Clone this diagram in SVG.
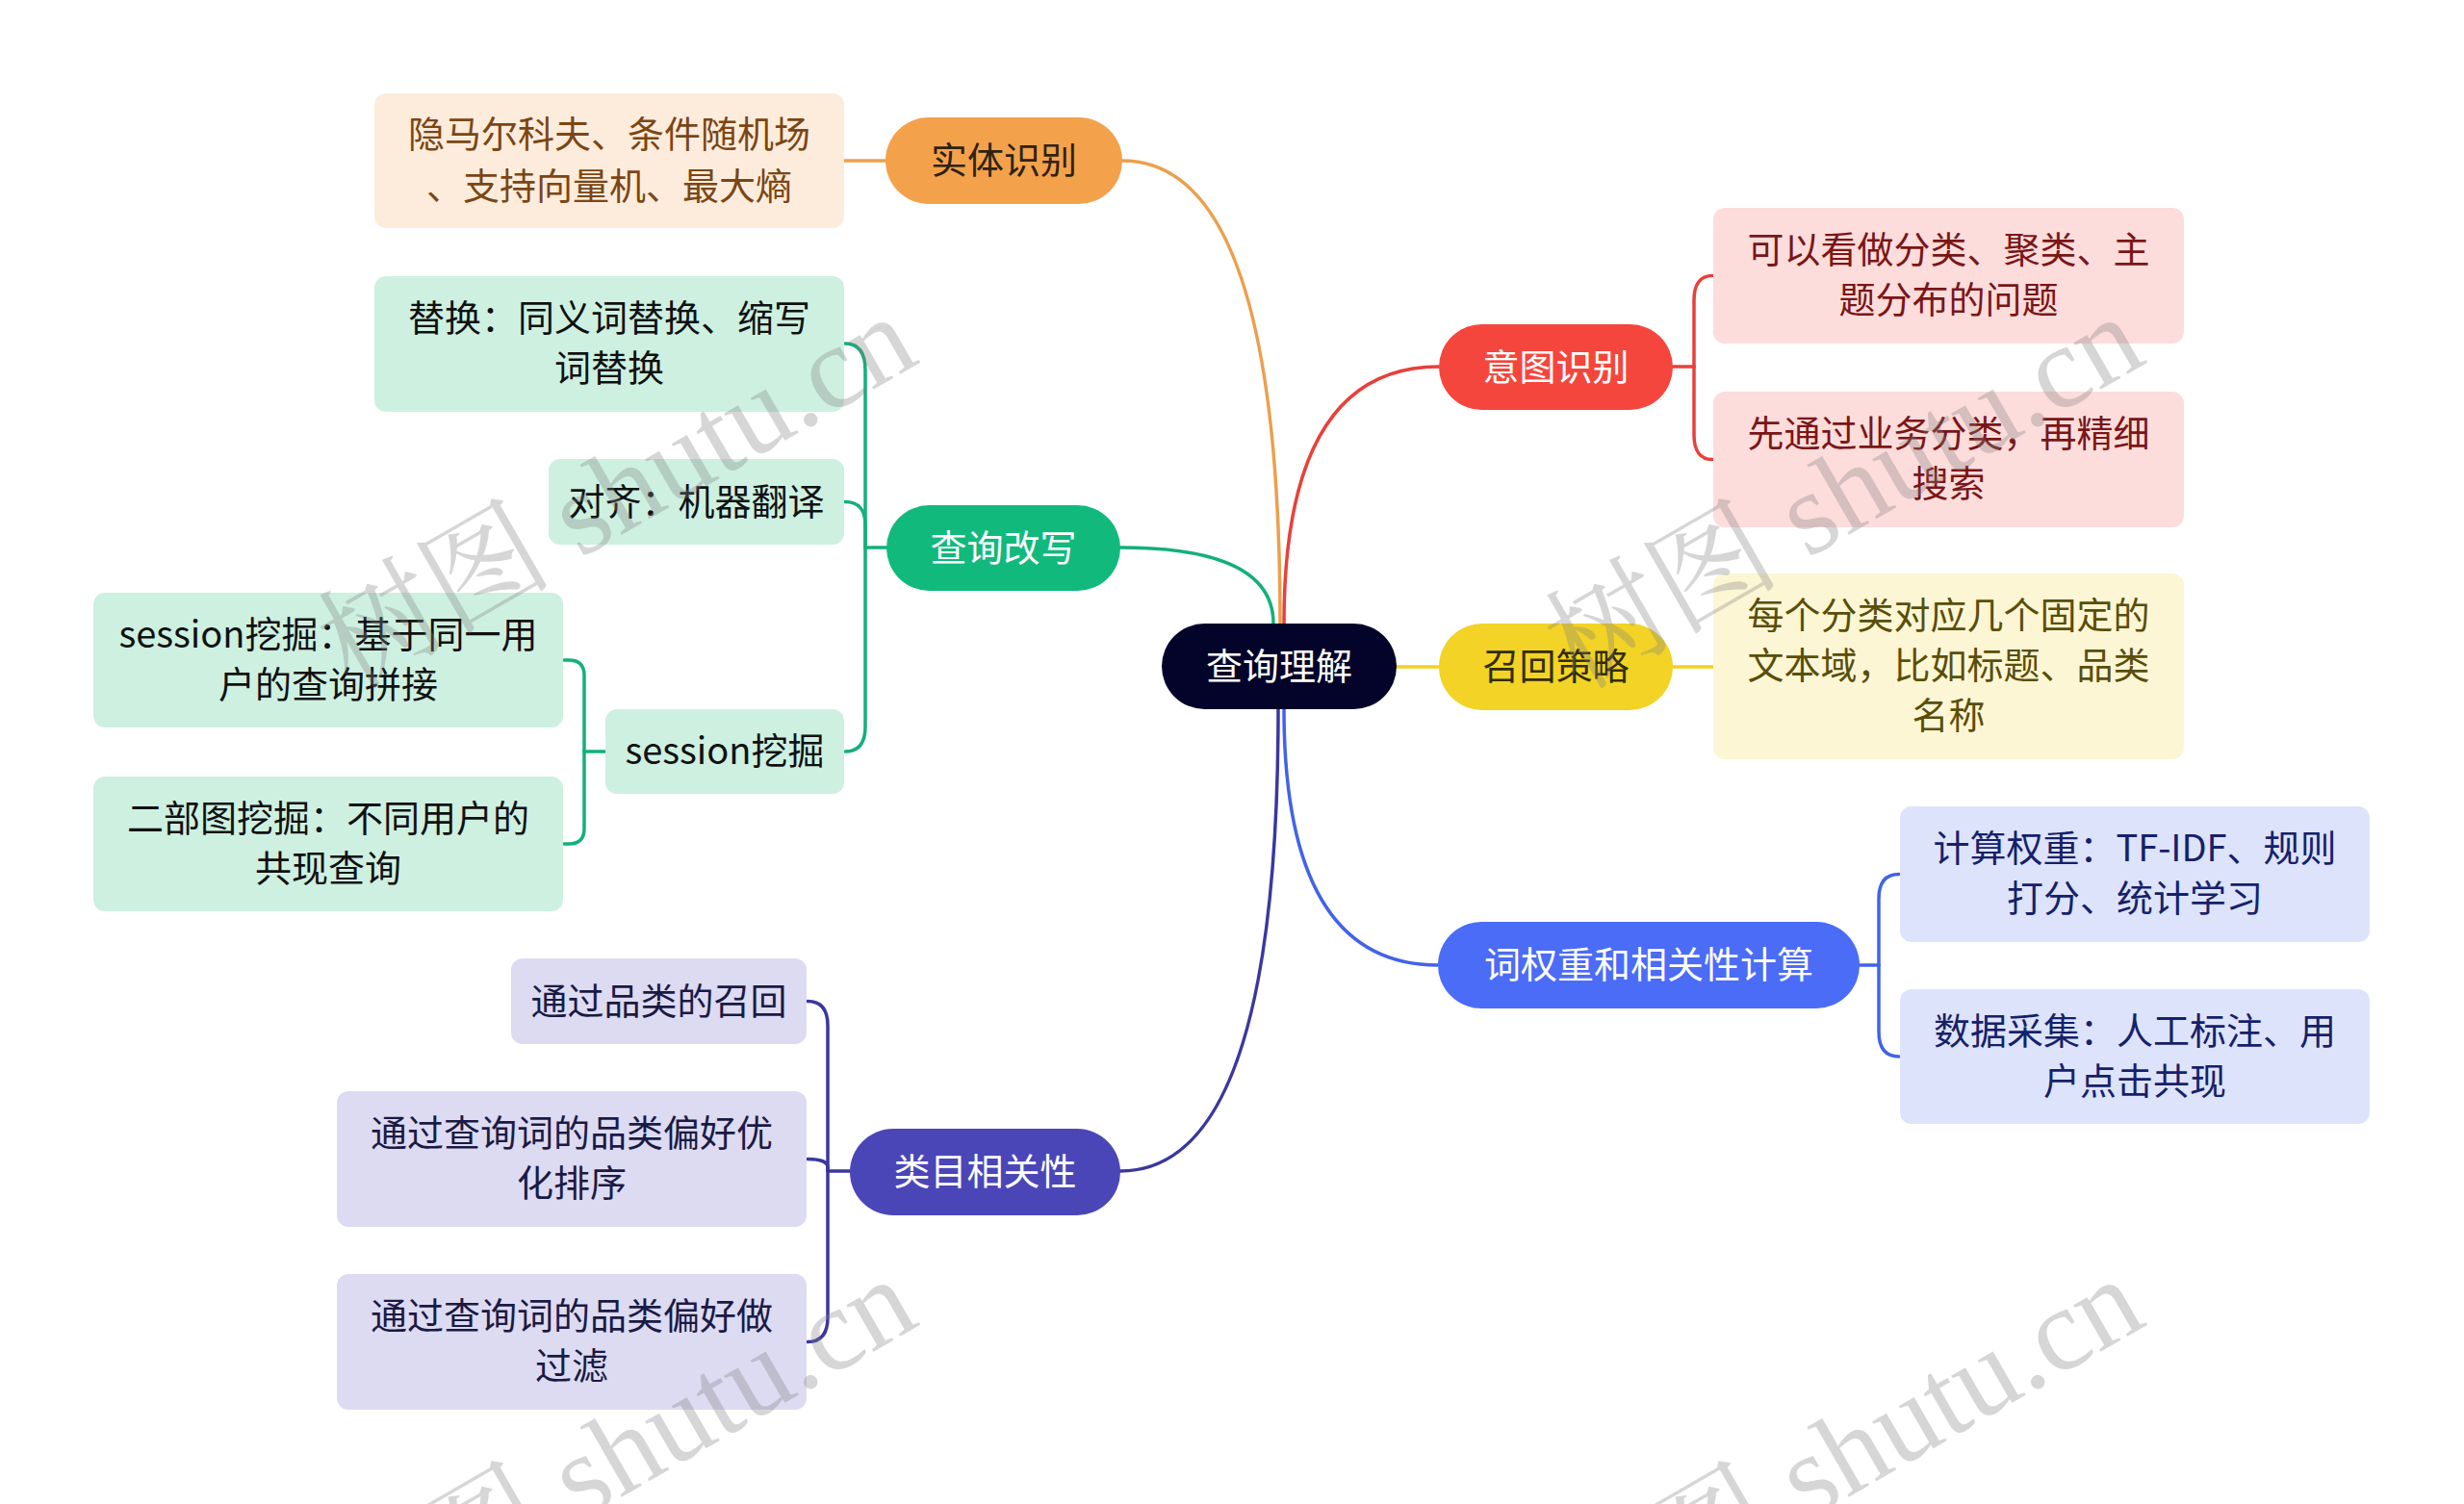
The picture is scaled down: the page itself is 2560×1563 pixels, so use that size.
<svg xmlns="http://www.w3.org/2000/svg" width="2560" height="1563" viewBox="0 0 2560 1563">
<style>
text{font-family:"Noto Sans CJK SC","Noto Sans",sans-serif;font-size:38px;text-anchor:middle}
.c{fill:none;stroke-width:3.5;stroke-linecap:round}
.wm{font-family:"Liberation Serif","Noto Serif CJK SC","Noto Sans CJK SC",serif;font-size:122px;fill:#808080;fill-opacity:0.32;text-anchor:start}
</style>
<rect width="2560" height="1563" fill="#ffffff"/>
<g id="connectors">
  <path class="c" stroke="#ec9f4b" d="M1330 648 Q1330 167 1166 167"/>
  <path class="c" stroke="#ec9f4b" d="M920 167 H877"/>
  <path class="c" stroke="#13b07a" d="M1323 648 Q1323 569 1164 569"/>
  <path class="c" stroke="#13b07a" d="M921 569 H899"/>
  <path class="c" stroke="#13b07a" d="M899 569 V385 C899 366 892 357 878 357"/>
  <path class="c" stroke="#13b07a" d="M899 569 V545 C899 530 892 521.5 878 521.5"/>
  <path class="c" stroke="#13b07a" d="M899 569 V755 C899 772 892 781 878 781"/>
  <path class="c" stroke="#13b07a" d="M629 781 H607"/>
  <path class="c" stroke="#13b07a" d="M607 781 V702 Q607 686 591 686 H586"/>
  <path class="c" stroke="#13b07a" d="M607 781 V861 Q607 877 591 877 H586"/>
  <path class="c" stroke="#e8403a" d="M1334 648 Q1334 381 1495 381"/>
  <path class="c" stroke="#e8403a" d="M1738 381 H1760"/>
  <path class="c" stroke="#e8403a" d="M1760 381 V312 C1760 295 1767 286.5 1779 286.5"/>
  <path class="c" stroke="#e8403a" d="M1760 381 V452 C1760 469 1767 477.5 1779 477.5"/>
  <path class="c" stroke="#f2d024" d="M1451 693 H1495"/>
  <path class="c" stroke="#f2d024" d="M1738 693 H1780"/>
  <path class="c" stroke="#4263e8" d="M1334 737 Q1334 1003 1494 1003"/>
  <path class="c" stroke="#4263e8" d="M1932 1003 H1952"/>
  <path class="c" stroke="#4263e8" d="M1952 1003 V934 C1952 917 1959 908.5 1973 908.5"/>
  <path class="c" stroke="#4263e8" d="M1952 1003 V1072 C1952 1089 1959 1098 1973 1098"/>
  <path class="c" stroke="#3b379f" d="M1328 737 Q1328 1217 1164 1217"/>
  <path class="c" stroke="#3b379f" d="M883 1217 H860"/>
  <path class="c" stroke="#3b379f" d="M860 1217 V1066 C860 1049 853 1040.5 839 1040.5"/>
  <path class="c" stroke="#3b379f" d="M860 1217 V1213 C860 1208 853 1204.5 839 1204.5"/>
  <path class="c" stroke="#3b379f" d="M860 1217 V1369 C860 1386 853 1394.5 839 1394.5"/>
</g>
<g id="root">
  <rect x="1207" y="648" width="244" height="89" rx="44.5" fill="#04042a"/>
  <text x="1329" y="706" fill="#ffffff">查询理解</text>
</g>
<g id="n-entity">
  <rect x="920" y="122" width="246" height="90" rx="45" fill="#f4a14c"/>
  <text x="1043" y="180" fill="#2e2210">实体识别</text>
</g>
<g id="n-entity-leaf">
  <rect x="389" y="97" width="488" height="140" rx="12" fill="#fdecdc"/>
  <text x="633" y="153" fill="#7b4614">隐马尔科夫、条件随机场</text>
  <text x="633" y="207" fill="#7b4614">、支持向量机、最大熵</text>
</g>
<g id="n-rewrite">
  <rect x="921" y="525" width="243" height="89" rx="44.5" fill="#11b97d"/>
  <text x="1042.5" y="582.5" fill="#ffffff">查询改写</text>
</g>
<g id="n-rewrite-replace">
  <rect x="389" y="287" width="488" height="141" rx="12" fill="#cdf0e1"/>
  <text x="633" y="344" fill="#111111">替换：同义词替换、缩写</text>
  <text x="633" y="396" fill="#111111">词替换</text>
</g>
<g id="n-rewrite-align">
  <rect x="570" y="477" width="307" height="89" rx="12" fill="#cdf0e1"/>
  <text x="723.5" y="534.5" fill="#111111">对齐：机器翻译</text>
</g>
<g id="n-rewrite-session">
  <rect x="629" y="737" width="248" height="88" rx="12" fill="#cdf0e1"/>
  <text x="753" y="794" fill="#111111">session挖掘</text>
</g>
<g id="n-session-same">
  <rect x="97" y="616" width="488" height="140" rx="12" fill="#cdf0e1"/>
  <text x="341" y="673" fill="#111111">session挖掘：基于同一用</text>
  <text x="341" y="725" fill="#111111">户的查询拼接</text>
</g>
<g id="n-session-bipartite">
  <rect x="97" y="807" width="488" height="140" rx="12" fill="#cdf0e1"/>
  <text x="341" y="864" fill="#111111">二部图挖掘：不同用户的</text>
  <text x="341" y="916" fill="#111111">共现查询</text>
</g>
<g id="n-category">
  <rect x="883" y="1173" width="281" height="90" rx="45" fill="#4b46b8"/>
  <text x="1023.5" y="1231" fill="#ffffff">类目相关性</text>
</g>
<g id="n-category-recall">
  <rect x="531" y="996" width="307" height="89" rx="12" fill="#dddbf2"/>
  <text x="684.5" y="1053.5" fill="#1a1a45">通过品类的召回</text>
</g>
<g id="n-category-rank">
  <rect x="350" y="1134" width="488" height="141" rx="12" fill="#dddbf2"/>
  <text x="594" y="1191" fill="#1a1a45">通过查询词的品类偏好优</text>
  <text x="594" y="1243" fill="#1a1a45">化排序</text>
</g>
<g id="n-category-filter">
  <rect x="350" y="1324" width="488" height="141" rx="12" fill="#dddbf2"/>
  <text x="594" y="1381" fill="#1a1a45">通过查询词的品类偏好做</text>
  <text x="594" y="1433" fill="#1a1a45">过滤</text>
</g>
<g id="n-intent">
  <rect x="1495" y="337" width="243" height="89" rx="44.5" fill="#f5463d"/>
  <text x="1616.5" y="394.5" fill="#ffffff">意图识别</text>
</g>
<g id="n-intent-1">
  <rect x="1780" y="216" width="489" height="141" rx="12" fill="#fddcdc"/>
  <text x="2024.5" y="273" fill="#7a1616">可以看做分类、聚类、主</text>
  <text x="2024.5" y="325" fill="#7a1616">题分布的问题</text>
</g>
<g id="n-intent-2">
  <rect x="1780" y="407" width="489" height="141" rx="12" fill="#fddcdc"/>
  <text x="2024.5" y="464" fill="#7a1616">先通过业务分类，再精细</text>
  <text x="2024.5" y="516" fill="#7a1616">搜索</text>
</g>
<g id="n-recall">
  <rect x="1495" y="648" width="243" height="90" rx="45" fill="#f2d326"/>
  <text x="1616.5" y="706" fill="#332c05">召回策略</text>
</g>
<g id="n-recall-1">
  <rect x="1780" y="596" width="489" height="193" rx="12" fill="#fdf6d5"/>
  <text x="2024.5" y="653" fill="#5a4e08">每个分类对应几个固定的</text>
  <text x="2024.5" y="705" fill="#5a4e08">文本域，比如标题、品类</text>
  <text x="2024.5" y="757" fill="#5a4e08">名称</text>
</g>
<g id="n-weight">
  <rect x="1494" y="958" width="438" height="90" rx="45" fill="#4b6cf6"/>
  <text x="1713" y="1016" fill="#ffffff">词权重和相关性计算</text>
</g>
<g id="n-weight-1">
  <rect x="1974" y="838" width="488" height="141" rx="12" fill="#dde3fa"/>
  <text x="2218" y="895" fill="#15216a">计算权重：TF-IDF、规则</text>
  <text x="2218" y="947" fill="#15216a">打分、统计学习</text>
</g>
<g id="n-weight-2">
  <rect x="1974" y="1028" width="488" height="140" rx="12" fill="#dde3fa"/>
  <text x="2218" y="1085" fill="#15216a">数据采集：人工标注、用</text>
  <text x="2218" y="1137" fill="#15216a">户点击共现</text>
</g>
<g id="watermark">
  <text class="wm" transform="translate(365 718) rotate(-30)">树图 shutu.cn</text>
  <text class="wm" transform="translate(1640 718) rotate(-30)">树图 shutu.cn</text>
  <text class="wm" transform="translate(365 1718) rotate(-30)">树图 shutu.cn</text>
  <text class="wm" transform="translate(1640 1718) rotate(-30)">树图 shutu.cn</text>
</g>
</svg>
